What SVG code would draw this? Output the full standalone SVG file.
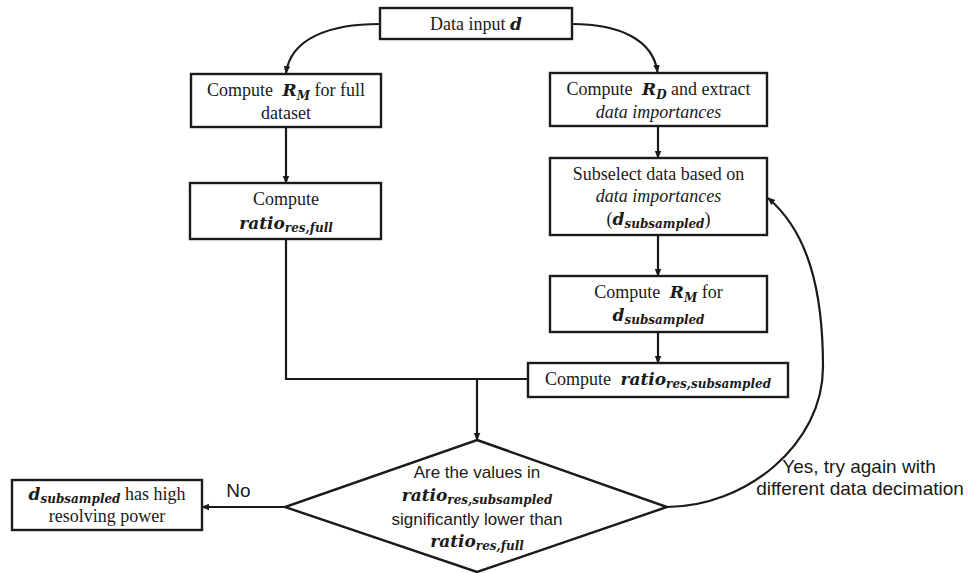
<svg xmlns="http://www.w3.org/2000/svg" width="968" height="573" viewBox="0 0 968 573">
<defs>
<marker id="ah" markerWidth="8" markerHeight="8" refX="7" refY="4" orient="auto" markerUnits="userSpaceOnUse">
<path d="M0,0.8 L8,4 L0,7.2 Z" fill="#1a1a1a"/>
</marker>
<style>
.box{fill:#fff;stroke:#1a1a1a;stroke-width:2.4}
.con{fill:none;stroke:#1a1a1a;stroke-width:2.2}
.t{font-family:"Liberation Serif",serif;font-size:18px;fill:#1a1a1a;text-anchor:middle}
.it{font-style:italic}
.m{font-family:"DejaVu Serif",serif;font-weight:bold;font-style:italic;font-size:17px}
.s{font-family:"DejaVu Serif",serif;font-weight:bold;font-style:italic;font-size:12px}
.sans{font-family:"Liberation Sans",Arial,sans-serif;font-size:17px;fill:#1a1a1a;text-anchor:middle}
.lbl{font-family:"Liberation Sans",Arial,sans-serif;font-size:19px;fill:#1a1a1a;text-anchor:middle}
</style>
</defs>
<rect width="968" height="573" fill="#fff"/>

<g id="connectors">
<path class="con" d="M380,24 C330,24 291,38 286,73" marker-end="url(#ah)"/>
<path class="con" d="M572,24 C620,24 653,40 657.5,72" marker-end="url(#ah)"/>
<path class="con" d="M286,127 L286,183" marker-end="url(#ah)"/>
<path class="con" d="M658,126 L658,158" marker-end="url(#ah)"/>
<path class="con" d="M658,235 L658,276" marker-end="url(#ah)"/>
<path class="con" d="M658,332 L658,363" marker-end="url(#ah)"/>
<path class="con" d="M286,239 L286,379 L528,379"/>
<path class="con" d="M477,379 L477,440" marker-end="url(#ah)"/>
<path class="con" d="M285,507 L202,507" marker-end="url(#ah)"/>
<path class="con" d="M667,507 C745,507 823,445 823,367 C823,290 808,232 768,198" marker-end="url(#ah)"/>
</g>

<g id="n-input">
<rect class="box" x="380" y="8" width="192" height="31"/>
<text class="t" x="476" y="30">Data input <tspan class="m">d</tspan></text>
</g>

<g id="n-rm-full">
<rect class="box" x="191" y="74" width="190" height="53"/>
<text class="t" x="286" y="96">Compute <tspan class="m" dx="5">R</tspan><tspan class="s" dy="4">M</tspan><tspan dy="-4"> for full</tspan></text>
<text class="t" x="286" y="119">dataset</text>
</g>

<g id="n-rd">
<rect class="box" x="550" y="73" width="217" height="53"/>
<text class="t" x="658.5" y="95">Compute <tspan class="m" dx="5">R</tspan><tspan class="s" dy="4">D</tspan><tspan dy="-4"> and extract</tspan></text>
<text class="t it" x="658.5" y="118">data importances</text>
</g>

<g id="n-ratio-full">
<rect class="box" x="190" y="183" width="191" height="56"/>
<text class="t" x="286" y="205">Compute</text>
<text class="t" x="286" y="229"><tspan class="m">ratio</tspan><tspan class="s" dy="3">res,full</tspan></text>
</g>

<g id="n-subselect">
<rect class="box" x="550" y="158" width="217" height="77"/>
<text class="t" x="658.5" y="180">Subselect data based on</text>
<text class="t it" x="658.5" y="202">data importances</text>
<text class="t" x="658.5" y="225">(<tspan class="m">d</tspan><tspan class="s" dy="3">subsampled</tspan><tspan dy="-3">)</tspan></text>
</g>

<g id="n-rm-sub">
<rect class="box" x="550" y="276" width="217" height="56"/>
<text class="t" x="658.5" y="298">Compute <tspan class="m" dx="5">R</tspan><tspan class="s" dy="4">M</tspan><tspan dy="-4"> for</tspan></text>
<text class="t" x="658.5" y="321"><tspan class="m">d</tspan><tspan class="s" dy="3">subsampled</tspan></text>
</g>

<g id="n-ratio-sub">
<rect class="box" x="528" y="363" width="260" height="34"/>
<text class="t" x="658" y="385">Compute <tspan class="m" dx="5">ratio</tspan><tspan class="s" dy="3">res,subsampled</tspan></text>
</g>

<g id="n-decision">
<polygon class="box" points="477,440 667,507 477,572 285,507"/>
<text class="sans" x="477" y="478">Are the values in</text>
<text class="t" x="477" y="501"><tspan class="m">ratio</tspan><tspan class="s" dy="3">res,subsampled</tspan></text>
<text class="sans" x="477" y="525">significantly lower than</text>
<text class="t" x="477" y="547"><tspan class="m">ratio</tspan><tspan class="s" dy="3">res,full</tspan></text>
</g>

<g id="n-result">
<rect class="box" x="12" y="480" width="190" height="50"/>
<text class="t" x="107" y="500"><tspan class="m">d</tspan><tspan class="s" dy="3">subsampled</tspan><tspan dy="-3"> has high</tspan></text>
<text class="t" x="107" y="522">resolving power</text>
</g>

<g id="labels">
<text class="lbl" x="859" y="473">Yes, try again with</text>
<text class="lbl" x="860" y="495">different data decimation</text>
<text class="lbl" x="238.5" y="497">No</text>
</g>
</svg>
